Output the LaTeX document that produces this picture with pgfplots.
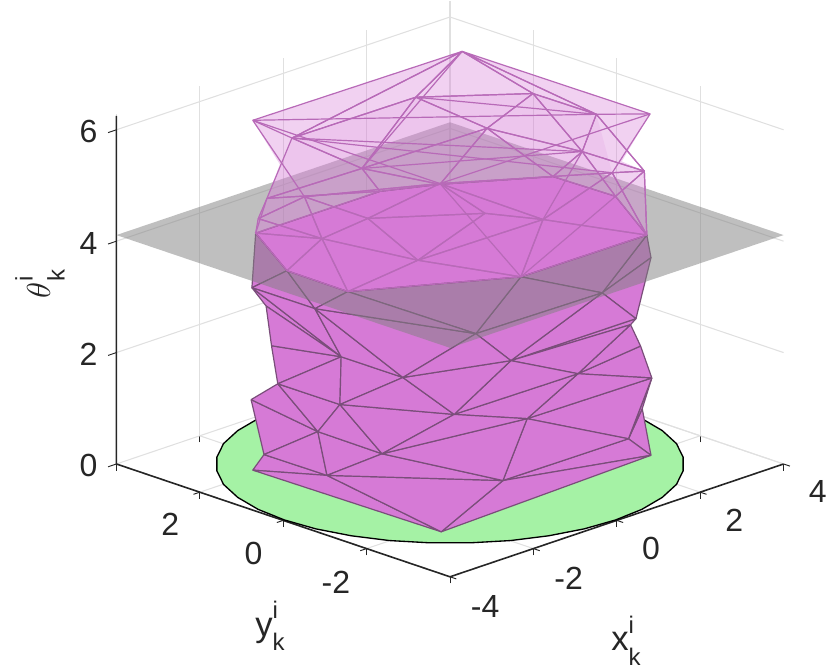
\documentclass[border=0pt]{standalone}
\usepackage{fontspec}
\setmainfont{Liberation Sans}
\usepackage{pgfplots}
\pgfplotsset{compat=1.18}

\definecolor{mag}{RGB}{214,122,214}
\definecolor{grn}{RGB}{165,242,165}
\definecolor{axc}{RGB}{38,38,38}
\definecolor{gridc}{RGB}{224,224,224}
\definecolor{edgelow}{RGB}{122,78,122}
\definecolor{edgeup}{RGB}{184,106,184}

\begin{document}
\begin{tikzpicture}
\path[use as bounding box] (0,0) rectangle (623.25pt,502.5pt);
\begin{axis}[
  at={(337.5pt,154.5pt)}, anchor=origin,
  x={(31.275pt,10.575pt)}, y={(-31.275pt,10.575pt)}, z={(0pt,41.775pt)},
  xmin=-4, xmax=4, ymin=-4, ymax=4, zmin=0, zmax=6.28,
  xtick={-4,-2,0,2,4}, ytick={-2,0,2}, ztick={0,2,4,6},
  tick pos=left,
  grid=major, major grid style={gridc, line width=.8pt},
  axis line style={draw=none},
  tick align=outside, major tick length=5pt,
  tick style={axc, line width=.7pt},
  ztick style={draw=none},
  clip=false,
  /pgf/number format/assume math mode=true,
  ticklabel style={font=\fontsize{24}{28}\selectfont, text=axc},
  xticklabel style={xshift=12pt, yshift=-7pt},
  yticklabel style={xshift=-8.6pt, yshift=-10.5pt},
  zticklabel style={xshift=-6pt, yshift=-3pt},
  colormap={magc}{color=(mag) color=(mag)},
  colormap={pinkc}{color=(edgeup) color=(edgeup)},
]
% axis lines
\addplot3[axc, line width=1.2pt, no marks] coordinates {(-4,4,6.25) (-4,4,0) (-4,-4,0) (4,-4,0)};
% z ticks, only on the left edge
\addplot3[axc, line width=.7pt, no marks] coordinates {(-4,4,0) (-4.2,4,0)};
\addplot3[axc, line width=.7pt, no marks] coordinates {(-4,4,2) (-4.2,4,2)};
\addplot3[axc, line width=.7pt, no marks] coordinates {(-4,4,4) (-4.2,4,4)};
\addplot3[axc, line width=.7pt, no marks] coordinates {(-4,4,6) (-4.2,4,6)};

% disc on the floor
\addplot3[fill=grn, draw=black, line width=1pt, no marks] coordinates {
(3.97,0,0) (3.91,.69,0) (3.73,1.36,0) (3.44,1.99,0) (3.04,2.55,0) (2.55,3.04,0)
(1.99,3.44,0) (1.36,3.73,0) (.69,3.91,0) (0,3.97,0) (-.69,3.91,0) (-1.36,3.73,0)
(-1.99,3.44,0) (-2.55,3.04,0) (-3.04,2.55,0) (-3.44,1.99,0) (-3.73,1.36,0) (-3.91,.69,0)
(-3.97,0,0) (-3.91,-.69,0) (-3.73,-1.36,0) (-3.44,-1.99,0) (-3.04,-2.55,0) (-2.55,-3.04,0)
(-1.99,-3.44,0) (-1.36,-3.73,0) (-.69,-3.91,0) (0,-3.97,0) (.69,-3.91,0) (1.36,-3.73,0)
(1.99,-3.44,0) (2.55,-3.04,0) (3.04,-2.55,0) (3.44,-1.99,0) (3.73,-1.36,0) (3.91,-.69,0)
(3.97,0,0)} --cycle;

% lower surface
\addplot3[patch, shader=faceted, colormap name=magc, faceted color=edgelow, line width=.9pt,
  table/row sep=\\, patch table={
20 21 18\\ 21 22 18\\ 22 17 18\\ 22 32 17\\ 32 16 17\\ 23 20 18\\ 23 11 18\\ 11 12 18\\
18 12 17\\ 12 13 17\\ 17 13 16\\ 13 15 16\\ 15 19 16\\ 15 2 19\\ 13 14 15\\ 14 2 15\\
12 10 13\\ 10 14 13\\ 9 14 10\\ 9 1 14\\ 1 2 14\\ 0 1 9\\ 3 0 9\\ 3 9 8\\ 8 9 10\\
7 8 10\\ 7 10 12\\ 7 12 11\\ 6 7 11\\ 5 7 6\\ 5 8 7\\ 4 8 5\\ 4 3 8\\ 34 5 6\\ 33 34 6\\
30 33 6\\ 30 6 31\\ 31 6 11\\ 31 11 23\\ 27 31 23\\ 28 31 27\\ 28 30 31\\ 29 30 28\\
27 23 24\\ 23 20 24\\ 24 20 25\\ 25 20 26\\ 20 21 26\\
}] table {
x y z\\
-2.84 1.89 .13\\ -2.51 -2.30 0\\ 2.56 -2.26 .08\\ -3.14 1.32 .63\\ -2.71 2.06 1.32\\
-3.31 .82 2.07\\ -3.33 -.72 2.95\\ -3.34 -.70 2.09\\ -3.40 -.23 1.50\\ -3.38 -.43 .76\\
-3.08 -1.45 1.33\\ -2.91 -1.78 2.74\\ -2.36 -2.46 2.11\\ -1.30 -3.15 1.94\\ -1.69 -2.96 .88\\
1.02 -3.26 1.02\\ 2.27 -2.57 1.62\\ -.32 -3.39 2.56\\ -1.57 -3.03 3.02\\ 1.60 -3.01 1.35\\
.25 -3.40 3.87\\ 1.32 -3.14 3.07\\ 1.10 -3.23 3.04\\ -2.08 -2.70 3.55\\ -.63 -2.33 4.11\\
2.36 -2.36 4.11\\ 2.26 -2.56 3.78\\ -3.23 -.78 4.11\\ -3.22 .69 4.11\\ -2.26 2.40 4.11\\
-2.76 1.99 3.36\\ -3.40 -.16 3.69\\ 1.51 -3.06 2.51\\ -3.18 1.23 3.33\\ -3.26 1.02 2.69\\
};

% plane
\addplot3[fill=black!50, fill opacity=.5, draw=none, no marks] coordinates {
(-4,-4,4.11) (4,-4,4.11) (4,4,4.11) (-4,4,4.11)} --cycle;

% cross section at the plane
\addplot3[fill=mag, draw=edgelow!90!mag, line width=.9pt, no marks] coordinates {
(-2.26,2.40,4.11) (.71,2.39,4.11) (1.68,1.92,4.11) (3.31,.84,4.11) (3.36,-.61,4.11)
(2.36,-2.36,4.11) (-.63,-2.33,4.11) (-3.23,-.78,4.11) (-3.22,.69,4.11)} --cycle;

% transparent outline of the upper part
\addplot3[fill=mag, fill opacity=.35, draw=none, no marks] coordinates {
(-1.89,2.84,5.93) (2.55,2.26,6.19) (2.55,-2.25,6.21) (3.27,-.85,4.82) (2.96,-1.70,4.94)
(2.36,-2.36,4.11) (3.36,-.61,4.11) (3.31,.84,4.11) (1.68,1.92,4.11) (.71,2.39,4.11)
(-2.26,2.40,4.11) (-3.0,1.6,4.76) (-1.21,3.18,4.27) (-.80,3.28,4.75)} --cycle;
\addplot3[fill=mag, fill opacity=.14, draw=none, no marks] coordinates {
(-.41,3.38,5.10) (1.97,2.79,5.38) (3.19,1.20,5.54) (3.41,-.10,5.44) (.52,-3.37,5.95)
(2.36,-2.36,4.11) (3.31,.84,4.11) (.71,2.39,4.11) (-2.26,2.40,4.11) (-1.21,3.18,4.27)} --cycle;

% upper surface edges
\addplot3[patch, shader=faceted, colormap name=pinkc, faceted color=edgeup, fill opacity=0, line width=.9pt,
  table/row sep=\\, patch table={
0 14 12\\ 12 14 19\\ 12 19 15\\ 12 15 13\\ 12 13 13\\ 14 19 18\\ 19 18 16\\ 19 16 15\\
15 16 22\\ 15 22 23\\ 15 23 24\\ 15 24 13\\ 16 22 20\\ 16 18 17\\ 16 17 20\\ 14 18 17\\
14 2 11\\ 14 11 17\\ 10 11 11\\ 11 10 21\\ 11 21 17\\ 17 21 20\\
0 1 3\\ 1 3 4\\ 1 4 5\\ 1 5 6\\ 1 6 2\\ 6 10 10\\ 3 4 7\\ 4 5 9\\ 4 9 7\\ 5 6 8\\ 5 8 9\\
6 8 10\\ 8 10 28\\ 10 21 28\\ 8 27 28\\ 9 8 27\\ 7 9 29\\ 9 27 29\\ 7 29 26\\ 3 7 25\\
7 26 25\\ 25 26 24\\ 25 13 13\\
0 6 6\\ 1 7 7\\ 3 8 8\\ 4 6 6\\ 7 8 8\\ 3 11 11\\ 17 8 8\\ 20 28 28\\ 14 20 20\\
}] table {
x y z\\
-1.89 2.84 5.93\\ 2.55 2.26 6.19\\ 2.55 -2.25 6.21\\ -.41 3.38 5.10\\ 1.97 2.79 5.38\\
3.19 1.20 5.54\\ 3.41 -.10 5.44\\ 1.11 3.22 4.21\\ 3.40 .23 4.69\\ 2.81 1.92 4.83\\
2.96 -1.70 4.94\\ .52 -3.37 5.95\\ -3.41 .08 5.64\\ -3.0 1.6 4.76\\ -2.52 -2.28 6.25\\
-3.40 -.33 4.99\\ -2.76 -1.99 4.86\\ -1.02 -3.25 5.47\\ -1.95 -2.79 5.70\\ -3.18 -1.21 5.52\\
-.63 -2.33 4.11\\ 2.36 -2.36 4.11\\ -3.23 -.78 4.11\\ -3.22 .69 4.11\\ -2.26 2.40 4.11\\
-1.21 3.18 4.27\\ .71 2.39 4.11\\ 3.31 .84 4.11\\ 3.36 -.61 4.11\\ 1.68 1.92 4.11\\
};
\end{axis}

\node[font=\fontsize{26}{30}\selectfont, text=axc] at (467pt,22pt)
  {x\rlap{\raisebox{-.42em}{\fontsize{18}{20}\selectfont k}}\raisebox{.5em}{\fontsize{18}{20}\selectfont i}};
\node[font=\fontsize{26}{30}\selectfont, text=axc] at (200pt,33pt)
  {y\rlap{\raisebox{-.42em}{\fontsize{18}{20}\selectfont k}}\raisebox{.5em}{\fontsize{18}{20}\selectfont i}};
\node[font=\fontsize{26}{30}\selectfont, text=axc, rotate=90] at (30pt,287pt)
  {$\theta$\rlap{\raisebox{-.42em}{\fontsize{18}{20}\selectfont k}}\raisebox{.5em}{\fontsize{18}{20}\selectfont i}};
\end{tikzpicture}
\end{document}
